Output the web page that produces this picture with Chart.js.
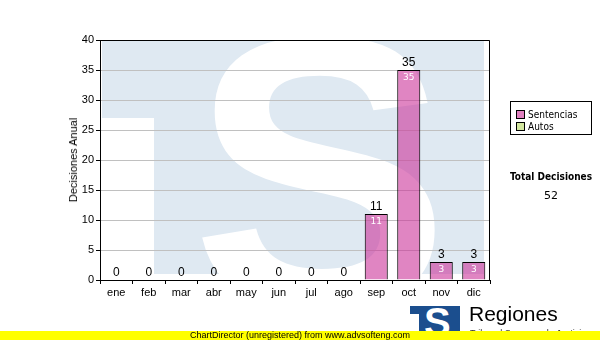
<!DOCTYPE html>
<html>
<head>
<meta charset="utf-8">
<script src="https://cdn.jsdelivr.net/npm/chart.js@4.4.0/dist/chart.umd.min.js"></script>
<style>
  body { margin: 0; background: #fff; }
  #wrap { position: relative; width: 600px; height: 340px; overflow: hidden; font-family: "Liberation Sans", Arial, sans-serif; }
  #c { position: absolute; left: 0; top: 0; }
  #ytitle { position: absolute; left: 73px; top: 160px; transform: translate(-50%, -50%) rotate(-90deg); font-size: 11px; white-space: nowrap; color: #000; }
  #legend { position: absolute; left: 510px; top: 101px; width: 82px; height: 34px; border: 1px solid #000; font-family: "DejaVu Sans Condensed", "DejaVu Sans", sans-serif; font-size: 10px; color: #000; box-sizing: border-box; padding: 7px 0 0 5px; line-height: 12px; }
  #legend span.sw { display: inline-block; width: 7px; height: 7px; border: 1px solid #000; margin-right: 3px; vertical-align: -1px; }
  #total { position: absolute; left: 551px; top: 171px; transform: translateX(-50%); font-family: "DejaVu Sans Condensed", "DejaVu Sans", sans-serif; font-size: 10px; font-weight: bold; white-space: nowrap; }
  #totalv { position: absolute; left: 551px; top: 189px; transform: translateX(-50%); font-family: "DejaVu Sans", Verdana, sans-serif; font-size: 11px; }
  #logo { position: absolute; left: 410px; top: 306px; width: 50px; height: 34px; background: #1b4e8e; overflow: hidden; }
  #logo .t { position: absolute; left: 0; top: 8px; width: 9px; height: 30px; background: #fff; }
  #logo .s { position: absolute; left: 14px; top: -6px; color: #fff; font: bold 40px "Liberation Sans", Arial, sans-serif; }
  #reg { position: absolute; left: 469px; top: 302px; font-size: 21px; color: #000; }
  #sub { position: absolute; left: 470px; top: 328px; font-size: 9px; color: #333; white-space: nowrap; }
  #bar { position: absolute; left: 0; top: 331px; width: 600px; height: 9px; background: #ffff00; font-size: 9px; line-height: 9px; text-align: center; color: #000; }
</style>
</head>
<body>
<div id="wrap">
  <canvas id="c" width="600" height="340"></canvas>
  <div id="ytitle">Decisiones Anual</div>
  <div id="legend">
    <div><span class="sw" style="background:#e080c0"></span>Sentencias</div>
    <div><span class="sw" style="background:#d4e8a0"></span>Autos</div>
  </div>
  <div id="total">Total Decisiones</div>
  <div id="totalv">52</div>
  <div id="logo"><div class="t"></div><div class="s">S</div></div>
  <div id="reg">Regiones</div>
  <div id="sub">Tribunal Supremo de Justicia</div>
  <div id="bar">ChartDirector (unregistered) from www.advsofteng.com</div>
</div>
<script>
// datos del grafico
const meses = ['ene', 'feb', 'mar', 'abr', 'may', 'jun', 'jul', 'ago', 'sep', 'oct', 'nov', 'dic'];
const sentencias = [0, 0, 0, 0, 0, 0, 0, 0, 11, 35, 3, 3];
const autos = [0, 0, 0, 0, 0, 0, 0, 0, 0, 0, 0, 0];
const yTicks = [0, 5, 10, 15, 20, 25, 30, 35, 40];

// marca de agua TS detras del area del grafico
const fondo = {
  id: 'fondo',
  beforeDraw(chart) {
    const { ctx, chartArea: a } = chart;
    ctx.save();
    ctx.beginPath();
    ctx.rect(a.left, a.top, a.right - a.left, a.bottom - a.top);
    ctx.clip();
    ctx.fillStyle = '#dfe9f2';
    ctx.fillRect(a.left + 2, a.top, a.right - a.left - 8, a.bottom - a.top - 6);
    ctx.fillStyle = '#fff';
    ctx.fillRect(a.left, a.top + 78, 54, 200);
    // la S blanca
    ctx.translate(191, 307);
    ctx.scale(1.0, 1);
    ctx.font = 'bold 388px "Liberation Sans", Arial, sans-serif';
    ctx.textBaseline = 'alphabetic';
    ctx.fillText('S', 0, 0);
    ctx.restore();
  }
};

// etiquetas de valores y borde
const etiquetas = {
  id: 'etiquetas',
  afterDatasetsDraw(chart) {
    const { ctx, chartArea: a } = chart;
    const meta = chart.getDatasetMeta(0);
    ctx.save();
    ctx.textAlign = 'center';
    ctx.textBaseline = 'middle';
    meta.data.forEach((bar, i) => {
      const total = sentencias[i] + autos[i];
      ctx.fillStyle = '#000';
      ctx.font = '12px "Liberation Sans", Arial, sans-serif';
      ctx.fillText(String(total), bar.x, bar.y - 7);
      if (sentencias[i] > 0) {
        ctx.fillStyle = '#fff';
        ctx.font = '9px "DejaVu Sans", Verdana, sans-serif';
        ctx.fillText(String(sentencias[i]), bar.x, bar.y + 8);
      }
    });
    ctx.strokeStyle = '#000';
    ctx.lineWidth = 1;
    ctx.beginPath();
    ctx.moveTo(a.left, a.top + 0.5);
    ctx.lineTo(a.right - 0.5, a.top + 0.5);
    ctx.lineTo(a.right - 0.5, a.bottom);
    ctx.stroke();
    ctx.restore();
  }
};

new Chart(document.getElementById('c'), {
  type: 'bar',
  data: {
    labels: meses,
    datasets: [
      { label: 'Sentencias', data: sentencias, backgroundColor: 'rgba(204,51,153,0.6)', borderColor: '#000', borderWidth: 1, barPercentage: 0.71, categoryPercentage: 1 },
      { label: 'Autos', data: autos, backgroundColor: '#d4e8a0', borderColor: '#000', borderWidth: 0, barPercentage: 0.71, categoryPercentage: 1 }
    ]
  },
  options: {
    responsive: false,
    animation: false,
    layout: { padding: { left: 0, top: 40, right: 110, bottom: 0 } },
    plugins: { legend: { display: false }, tooltip: { enabled: false } },
    scales: {
      x: {
        stacked: true,
        grid: { drawOnChartArea: false, color: '#000', tickLength: 4 },
        border: { color: '#000', width: 1 },
        ticks: { color: '#000', font: { size: 11, family: '"Liberation Sans", Arial, sans-serif' }, padding: 2 },
        afterFit(s) { s.height = 60; }
      },
      y: {
        stacked: true,
        min: 0,
        max: 40,
        afterBuildTicks(s) { s.ticks = yTicks.map(v => ({ value: v })); },
        grid: { color: '#c0c0c0', tickColor: '#000', tickLength: 4 },
        border: { color: '#000', width: 1 },
        ticks: { color: '#000', font: { size: 11, family: '"Liberation Sans", Arial, sans-serif' }, padding: 2 },
        afterFit(s) { s.width = 100; }
      }
    }
  },
  plugins: [fondo, etiquetas]
});
</script>
</body>
</html>
